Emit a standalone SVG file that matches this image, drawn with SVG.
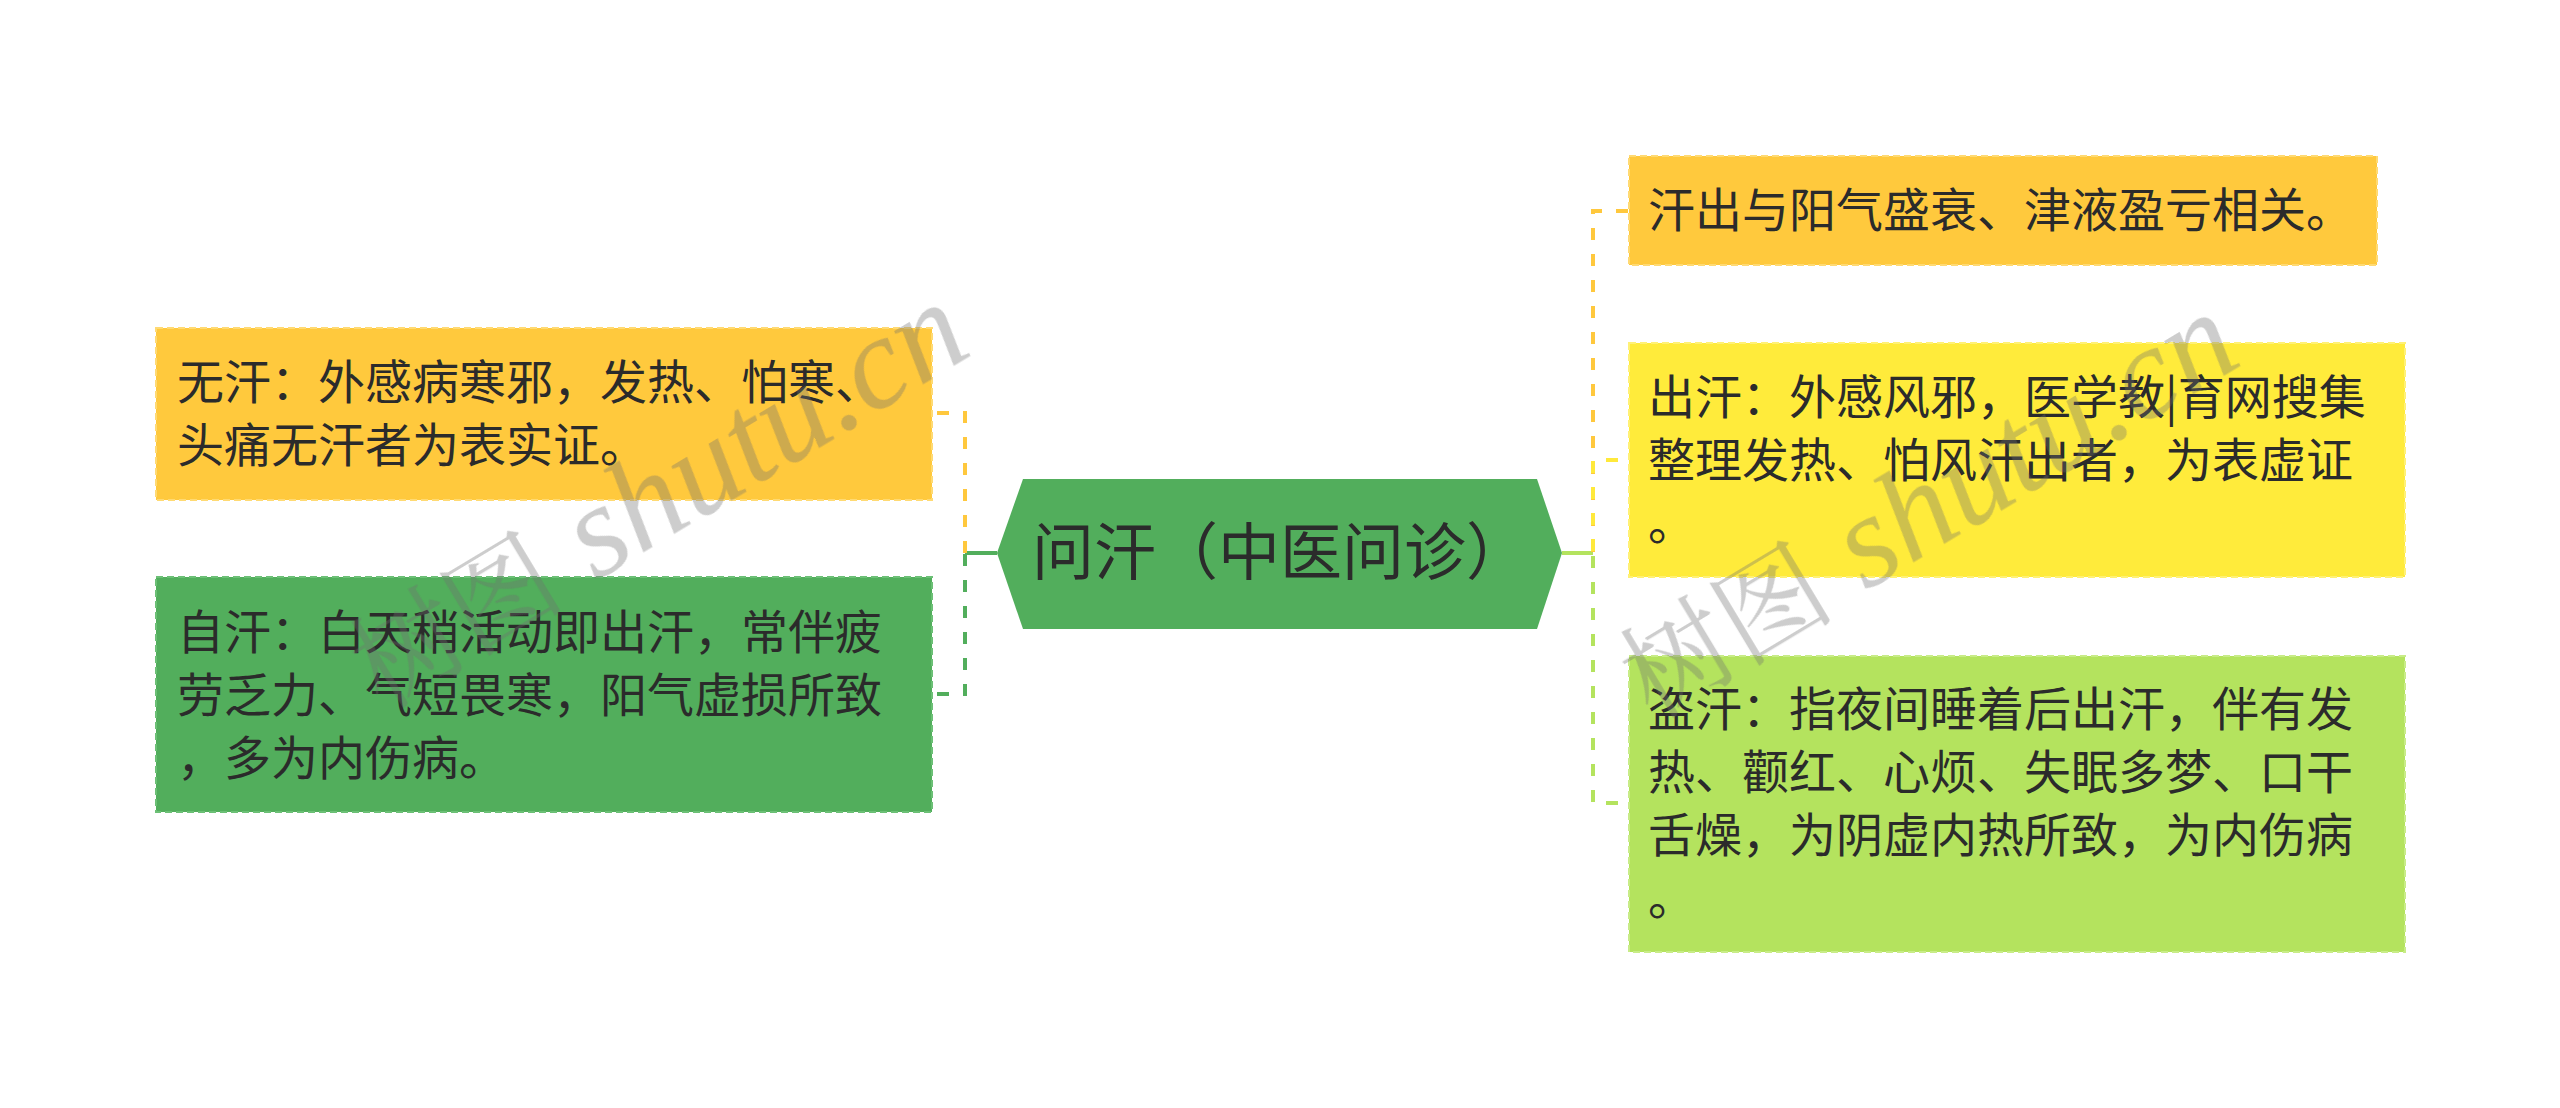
<svg xmlns="http://www.w3.org/2000/svg" width="2560" height="1108" viewBox="0 0 2560 1108">
<style>
.t{font-family:"Noto Sans CJK SC","Noto Sans",sans-serif;font-size:47px;fill:#2b2b2b}
.tc{font-family:"Noto Sans CJK SC","Noto Sans",sans-serif;font-size:62px;fill:#2b2b2b}
.dash{fill:none;stroke-width:4;stroke-dasharray:12 14}
.solid{fill:none;stroke-width:4}
.box{stroke-width:2;stroke-dasharray:7 4}
.wm{opacity:0.35;fill:#6f6f6f}
.wmc{font-family:"Noto Serif CJK SC","Noto Sans CJK SC",serif;font-size:108px}
.wml{font-family:"Liberation Serif",serif;font-style:italic;font-size:132px}
</style>
<rect width="2560" height="1108" fill="#ffffff"/>
<g id="connectors">
  <path class="solid" stroke="#52AE5C" d="M997 553 H965"/>
  <path class="dash" stroke="#FFC83D" d="M937 413 H965 V553"/>
  <path class="dash" stroke="#52AE5C" d="M937 694 H965 V553"/>
  <path class="solid" stroke="#B4E35E" d="M1562 553 H1593"/>
  <path class="dash" stroke="#FFC83D" d="M1628 211 H1593 V553"/>
  <path class="dash" stroke="#FFE93B" d="M1618 460 H1593 V553"/>
  <path class="dash" stroke="#B4E35E" d="M1618 803 H1593 V553"/>
</g>
<g id="center">
  <polygon points="997,553 1023,479 1537,479 1562,553 1537,629 1023,629" fill="#52AE5C"/>
  <text class="tc" x="1280" y="575" text-anchor="middle">问汗（中医问诊）</text>
</g>
<g id="node-wuhan">
  <rect class="box" x="156" y="328" width="776" height="172" fill="#FFC93D" stroke="#FFDA73"/>
  <text class="t" x="177" y="399">无汗：外感病寒邪，发热、怕寒、</text>
  <text class="t" x="177" y="462">头痛无汗者为表实证。</text>
</g>
<g id="node-zihan">
  <rect class="box" x="156" y="577" width="776" height="235" fill="#52AE5C" stroke="#6CC076"/>
  <text class="t" x="177" y="649">自汗：白天稍活动即出汗，常伴疲</text>
  <text class="t" x="177" y="712">劳乏力、气短畏寒，阳气虚损所致</text>
  <text class="t" x="177" y="775">，多为内伤病。</text>
</g>
<g id="node-hanchu">
  <rect class="box" x="1629" y="156" width="748" height="109" fill="#FFC93D" stroke="#FFDA73"/>
  <text class="t" x="1648" y="227">汗出与阳气盛衰、津液盈亏相关。</text>
</g>
<g id="node-chuhan">
  <rect class="box" x="1629" y="343" width="776" height="234" fill="#FFEB3B" stroke="#FFF176"/>
  <text class="t" x="1648" y="414">出汗：外感风邪，医学教|育网搜集</text>
  <text class="t" x="1648" y="477">整理发热、怕风汗出者，为表虚证</text>
  <text class="t" x="1648" y="540">。</text>
</g>
<g id="node-daohan">
  <rect class="box" x="1629" y="656" width="776" height="296" fill="#B4E35E" stroke="#C8EC88"/>
  <text class="t" x="1648" y="726">盗汗：指夜间睡着后出汗，伴有发</text>
  <text class="t" x="1648" y="789">热、颧红、心烦、失眠多梦、口干</text>
  <text class="t" x="1648" y="852">舌燥，为阴虚内热所致，为内伤病</text>
  <text class="t" x="1648" y="915">。</text>
</g>
<g id="watermarks" class="wm">
  <text transform="translate(382 710) rotate(-31)"><tspan class="wmc">树图</tspan><tspan class="wml"> shutu.cn</tspan></text>
  <text transform="translate(1652 720) rotate(-31)"><tspan class="wmc">树图</tspan><tspan class="wml"> shutu.cn</tspan></text>
</g>
</svg>
